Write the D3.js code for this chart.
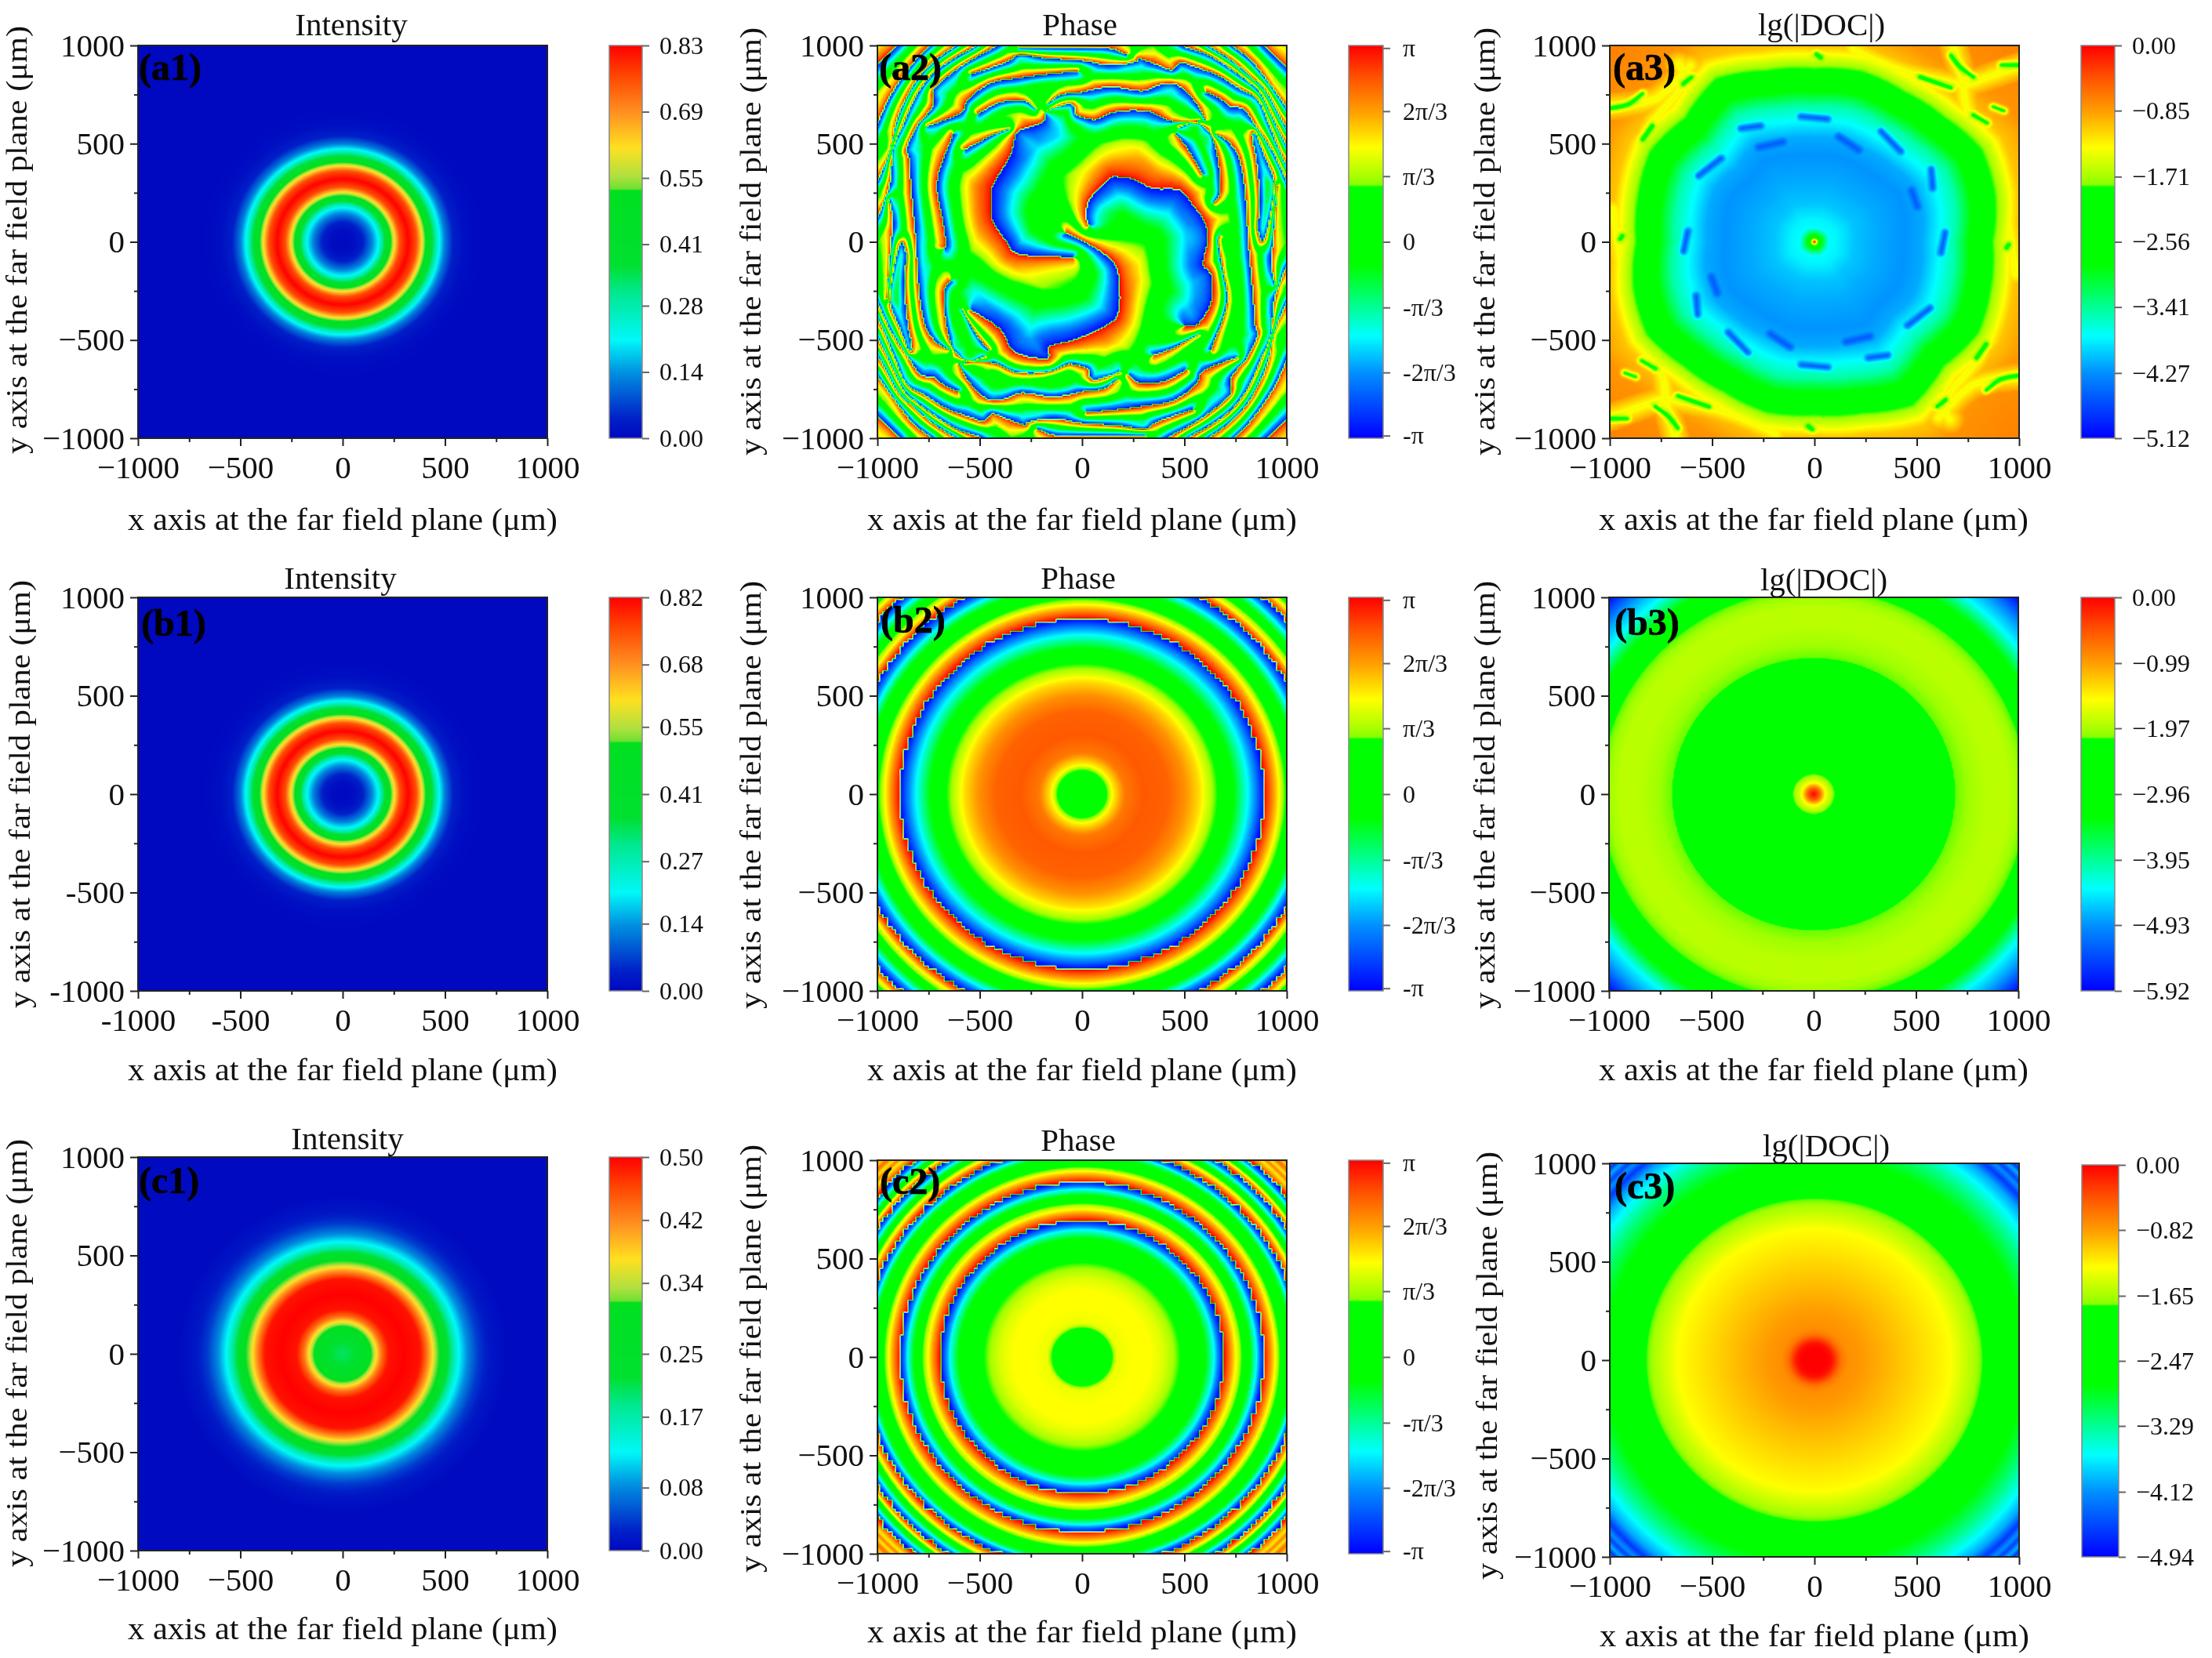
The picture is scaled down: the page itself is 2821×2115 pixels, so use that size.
<!DOCTYPE html>
<html>
<head>
<meta charset="utf-8">
<script src="https://cdn.jsdelivr.net/npm/d3@7"></script>
<style>
  html, body { margin: 0; padding: 0; background: #fff; }
  svg { display: block; filter: blur(0.6px); }
  text { font-family: "Liberation Serif", serif; }
</style>
</head>
<body>
<svg id="fig" width="2821" height="2115"></svg>
<script>
// ---- values ----
const majorTicks = [-1000, -500, 0, 500, 1000]
const minorTicks = [-750, -250, 250, 750]

// intensity against radius (um)
const radA1 = [0, 60, 100, 140, 175, 205, 235, 255, 280, 320, 360, 385, 405, 440, 470, 500, 540, 600, 700]
const intA1 = [0, .01, .04, .12, .21, .35, .50, .62, .76, .83, .76, .62, .50, .35, .22, .12, .04, .01, 0]
const intB1 = [0, .01, .04, .12, .21, .35, .50, .61, .75, .82, .75, .61, .50, .35, .22, .12, .04, .01, 0]
const radC1 = [0, 60, 100, 139, 150, 165, 190, 225, 300, 380, 410, 440, 455, 475, 520, 565, 610, 660, 720, 800]
const intC1 = [.20, .22, .26, .30, .33, .37, .435, .49, .50, .49, .435, .37, .33, .30, .21, .13, .08, .04, .015, .003]

// unwrapped phase (units of pi) against radius (um)
const radB2 = [0, 100, 125, 150, 210, 300, 420, 500, 570, 635, 660, 740, 810, 850, 890, 925, 960, 985, 1060, 1100, 1152, 1190, 1220, 1290, 1331, 1370, 1414]
const phaB2 = [0, .1, .28, .5, .75, .82, .8, .7, .55, .33, .25, -.12, -.48, -.7, -1, -1.25, -1.5, -1.7, -2.12, -2.5, -3, -3.5, -3.75, -4.5, -5, -5.5, -6]
const radC2 = [0, 130, 151, 170, 250, 336, 400, 459, 600, 643, 692, 749, 775, 819, 854, 888, 942, 960, 1030, 1075, 1130, 1195, 1250, 1290, 1310, 1330, 1345, 1360, 1380, 1400, 1414]
const phaC2 = [0, .1, .28, .45, .48, .48, .42, .3, -.1, -.45, -1, -1.5, -1.7, -2.1, -2.5, -3, -3.5, -3.7, -4.2, -5, -5.8, -7, -8.2, -9, -9.3, -9.5, -9.25, -9.5, -9.2, -9.45, -9.2]

// lg|DOC| against radius (um)
const radB3 = [0, 30, 55, 80, 100, 105, 140, 684, 690, 850, 950, 1035, 1050, 1150, 1243, 1320, 1400, 1414]
const docB3 = [0, -.59, -1.48, -1.89, -2.10, -2.37, -2.66, -2.66, -2.10, -1.89, -1.89, -2.10, -2.37, -3.26, -4.38, -4.91, -5.74, -5.86]
const radC3 = [0, 60, 85, 105, 130, 160, 220, 400, 665, 780, 815, 830, 1050, 1130, 1200, 1260, 1300, 1330, 1350, 1375, 1395, 1414]
const docC3 = [0, 0, -.08, -.3, -.6, -.74, -.79, -.99, -1.28, -1.63, -1.75, -1.98, -2.87, -3.26, -3.66, -4.05, -4.64, -4.10, -4.59, -3.95, -4.69, -3.95]

// a3: green edge (um) by angle (deg), value against radius / edge
const a3Angles = [0, 15, 30, 45, 60, 75, 90, 105, 120, 135, 150, 165, 180]
const a3Edge = [873, 917, 946, 900, 884, 900, 884, 905, 963, 895, 927, 895, 873]
const a3Rel = [0, .012, .03, .05, .08, .13, .22, .34, .5, .6, .68, .78, .85, .9, .998, 1.002, 1.06, 1.12, 1.25, 1.6]
const a3Doc = [0, -1.28, -2.56, -3.17, -3.79, -3.84, -4.04, -4.15, -4.25, -4.15, -3.84, -3.48, -2.97, -2.56, -1.89, -1.82, -1.45, -1.05, -.8, -.68]
// dark dashes, green veins and yellow web of a3 (um), each also appears turned by 180 deg
const a3Dashes = [[-271, 481, -155, 509], [-566, 337, -456, 426], [-359, 578, -264, 591], [-66, 639, 64, 626],
  [325, 564, 421, 461], [571, 371, 578, 275], [475, 261, 503, 179], [640, 48, 619, -55], [119, 536, 215, 468]]
const a3Veins = [[-990, 681, -908, 701, -840, 756], [-641, 804, -600, 839], [-840, 522, -792, 591],
  [667, 949, 708, 894, 777, 839], [516, 839, 667, 784], [777, 646, 845, 605], [873, 688, 927, 667], [914, 901, 996, 901],
  [10, 956, 30, 940], [-949, 14, -940, 30]]
const a3Web = [[-662, 904, -636, 808, -786, 616, -840, 506], [188, 976, 366, 894, 530, 839, 736, 797],
  [681, 990, 722, 832, 749, 660, 859, 467, 927, 220, 982, -165], [736, 797, 996, 894], [-990, 688, -771, 729, -607, 894]]

// a2: phase-jump lines, traced in crop units (783 = 1000 um in x, 755 = 1000 um in y).
// warm side is on the left when walking along a line. ring lines also appear turned by 180 deg.
const a2Rings = [
  [-810, 660, -713, 750, -670, 790],
  [-800, 430, -783, 455, -743, 545, -693, 625, -633, 705, -583, 755, -550, 790],
  [-795, 220, -773, 255, -733, 355, -713, 455, -673, 555, -623, 635, -553, 705, -483, 755, -450, 790],
  [-800, 80, -778, 105, -758, 155, -733, 235, -723, 355, -683, 455, -633, 565, -573, 645, -493, 705, -413, 750, -380, 790],
  [-510, -415, -560, -385, -600, -325, -620, -225, -630, -105, -636, 0, -653, 195, -663, 325, -673, 355, -633, 445, -598, 485, -568, 530, -568, 585, -503, 645, -433, 695, -333, 750, -280, 790],
  [-747, -220, -731, 0, -723, 75, -738, 165],
  [-528, -23, -521, 0, -538, 105, -555, 195, -551, 255, -533, 315, -493, 415],
  [-593, 445, -463, 495, -443, 540, -353, 610, -243, 630, -133, 645, -18, 655],
  [-448, 355, -393, 385, -333, 415, -273, 435],
  [-398, 493, -313, 537, -223, 543, -178, 510],
  [-423, 645, -363, 665, -283, 695, -238, 720, -143, 707, 0, 697, 100, 680, 170, 685, 210, 695, 220, 705, 290, 680, 345, 660, 375, 690, 440, 670, 520, 640, 600, 590, 670, 550, 710, 465, 750, 365, 790, 275],
  [-240, 745, 0, 745, 100, 745, 170, 720],
  [-133, 530, -83, 565, 0, 575, 60, 590, 130, 595, 230, 580, 300, 605, 360, 605, 420, 555, 460, 495, 470, 470],
  [-143, 500, -93, 520, -38, 530, -23, 490, 0, 480, 50, 470, 110, 495, 170, 505, 260, 500, 340, 465, 450, 465],
  [370, 440, 440, 458, 495, 410, 520, 315, 530, 195, 505, 150],
  [460, 260, 430, 315, 395, 370, 358, 415],
  [475, 575, 530, 550, 570, 520, 620, 510, 665, 445, 720, 365, 760, 285, 790, 215],
  [685, 5, 672, 55, 680, 155, 668, 305, 650, 410, 665, 415, 700, 325, 735, 235, 720, 105, 700, 15, 685, 5],
  [680, 790, 700, 750, 790, 665],
  [570, 760, 580, 750, 650, 695, 720, 605, 790, 505],
  [470, 770, 490, 750, 570, 700, 640, 640, 700, 585, 750, 495, 790, 425],
  [375, 770, 395, 750, 470, 725, 540, 685, 610, 635, 680, 575, 740, 455, 790, 355]
]
const a2Core = [
  [-35, -59, -239, -49, -288, 0, -343, 85, -348, 175, -338, 225, -273, 335, -253, 415, -223, 435, -148, 460, -143, 500],
  [25, 65, 15, 105, 30, 165, 100, 240, 130, 250, 200, 240, 270, 205, 370, 200, 420, 145, 470, 75, 480, 0, 462, -85, 494, -127, 494, -231, 446, -314, 393, -324],
  [-62, 34, 2, 3, 72, -38, 136, -106, 141, -262, 104, -314, -25, -376, -126, -402, -132, -449, -260, -423, -313, -335, -426, -262]
]
// the bands round the core lines are wider than the outer fringes
const a2CoreReach = 2.4

const panelNames = ['a1', 'a2', 'a3', 'b1', 'b2', 'b3', 'c1', 'c2', 'c3']
const titles = ['Intensity', 'Phase', 'lg(|DOC|)']
const phaseTicks = [3.1, 2.09, 1.05, 0, -1.05, -2.09, -3.1]
const phaseLabels = ['π', '2π/3', 'π/3', '0', '-π/3', '-2π/3', '-π']
const barTicks = {
  a1: [.83, .69, .55, .41, .28, .14, 0], b1: [.82, .68, .55, .41, .27, .14, 0], c1: [.50, .42, .34, .25, .17, .08, 0],
  a3: [0, -.85, -1.71, -2.56, -3.41, -4.27, -5.12], b3: [0, -.99, -1.97, -2.96, -3.95, -4.93, -5.92], c3: [0, -.82, -1.65, -2.47, -3.29, -4.12, -4.94]
}

// ---- layout, pixels: left, right, top, bottom, bar left, bar right, bar top, bar bottom ----
const frames = {
  a1: [176, 698, 58, 559, 777, 819, 58, 559], a2: [1119, 1641, 58, 559, 1720, 1764, 58, 559], a3: [2053, 2575, 58, 559, 2654, 2697, 58, 559],
  b1: [176, 698, 762, 1264, 777, 819, 762, 1264], b2: [1119, 1641, 762, 1264, 1720, 1764, 762, 1264], b3: [2052, 2574, 762, 1264, 2654, 2697, 762, 1264],
  c1: [176, 698, 1476, 1978, 777, 819, 1476, 1978], c2: [1119, 1641, 1480, 1982, 1720, 1764, 1480, 1982], c3: [2053, 2575, 1484, 1986, 2655, 2702, 1486, 1986]
}
// title x, title y, x label x, x label y, y label x, y label y, tag x, tag y
const labelsAt = {
  a1: [448, 45, 437, 676, 34, 306, 177, 102], a2: [1377, 45, 1380, 676, 970, 308, 1121, 102], a3: [2323, 45, 2313, 676, 1906, 308, 2057, 102],
  b1: [434, 751, 437, 1378, 38, 1013, 180, 811], b2: [1375, 751, 1380, 1378, 970, 1014, 1123, 807], b3: [2326, 753, 2313, 1378, 1906, 1014, 2059, 810],
  c1: [443, 1466, 437, 2091, 34, 1726, 177, 1522], c2: [1375, 1468, 1380, 2095, 970, 1733, 1122, 1523], c3: [2329, 1475, 2314, 2100, 1909, 1742, 2059, 1529]
}

// ---- colour maps: fraction of the range to colour ----
const mapFrac = [0, .167, .26, .37, .44, .64, .645, .667, .74, .83, .92, 1]
const mapBright = ['#0000ff', '#0090ff', '#00ffff', '#00ff60', '#00ff00', '#00ff00', '#88ff00', '#a8ff00', '#ffff00', '#ffa000', '#ff5000', '#ff0000']
const softFrac = [0, .167, .26, .37, .44, .62, .66, .74, .83, .92, 1]
const softBright = ['#0000ff', '#0090ff', '#00ffff', '#00ff60', '#00ff00', '#00ff00', '#a0ff00', '#ffff00', '#ffa000', '#ff5000', '#ff0000']
const intFrac = [0, .05, .167, .25, .37, .44, .63, .635, .667, .74, .83, .93, 1]
const intCols = ['#0008c0', '#0020c8', '#0090e0', '#00f8f8', '#00e890', '#00e030', '#00e020', '#70e030', '#b0e040', '#ffe020', '#ff9020', '#ff4000', '#ff0000']
const softIntFrac = [0, .05, .167, .25, .37, .44, .60, .667, .74, .83, .93, 1]
const softIntCols = ['#0008c0', '#0020c8', '#0090e0', '#00f8f8', '#00e890', '#00e030', '#00e020', '#b0e040', '#ffe020', '#ff9020', '#ff4000', '#ff0000']

function makeLut(fr, cols) {
  const s = d3.scaleLinear().domain(fr).range(cols).interpolate(d3.interpolateRgb).clamp(true)
  return d3.range(4096).map(i => d3.rgb(s(i / 4095)))
}
const lutBright = makeLut(softFrac, softBright)
const lutInt = makeLut(softIntFrac, softIntCols)

// ---- fields: value at (x, y) in um ----
const radial = (rs, vs) => {
  const s = d3.scaleLinear().domain(rs).range(vs).clamp(true)
  return (x, y) => s(Math.hypot(x, y))
}
const wrappedPhase = (rs, us) => {
  const s = d3.scaleLinear().domain(rs).range(us).clamp(true)
  const cell = 2000 / 100
  return (x, y) => {
    const u = s(Math.hypot(x, y))
    const us2 = s(Math.hypot(Math.round(x / cell) * cell, Math.round(y / cell) * cell))
    const v = u - 2 * Math.round(us2 / 2)
    return Math.PI * Math.max(-1, Math.min(1, v))
  }
}

// turn flat [u, v, ...] into point lists
const traceX = d3.scaleLinear().domain([-783, 783]).range([-1000, 1000])
const traceY = d3.scaleLinear().domain([-755, 755]).range([-1000, 1000])
function toPoints(flat, fx, fy) {
  const pts = []
  for (let i = 0; i < flat.length; i += 2) pts.push([fx(flat[i]), fy(flat[i + 1])])
  return pts
}
const turned = pts => pts.map(p => [-p[0], -p[1]])
// rounds the corners of a traced line
function smooth(pts) {
  const out = []
  for (let i = 0; i < pts.length - 1; i++) {
    const p0 = pts[Math.max(0, i - 1)], p1 = pts[i], p2 = pts[i + 1], p3 = pts[Math.min(pts.length - 1, i + 2)]
    for (let k = 0; k < 3; k++) {
      const t = k / 3, t2 = t * t, t3 = t2 * t
      out.push([0, 1].map(c => .5 * (2 * p1[c] + (p2[c] - p0[c]) * t + (2 * p0[c] - 5 * p1[c] + 4 * p2[c] - p3[c]) * t2 + (3 * p1[c] - p0[c] - 3 * p2[c] + p3[c]) * t3)))
    }
  }
  out.push(pts[pts.length - 1])
  return out
}
const ringPts = a2Rings.map(l => smooth(toPoints(l, traceX, traceY)))
const a2Lines = ringPts.concat(ringPts.map(turned)).map(pts => ({ pts, reach: 1 }))
  .concat(a2Core.map(l => ({ pts: smooth(toPoints(l, traceX, traceY)), reach: a2CoreReach })))

// nearest point of a polyline: distance and which side
function nearest(pts, x, y) {
  let best = 1e12, bi = 0, bt = 0
  for (let i = 0; i < pts.length - 1; i++) {
    const ax = pts[i][0], ay = pts[i][1]
    const dx = pts[i + 1][0] - ax, dy = pts[i + 1][1] - ay
    let t = ((x - ax) * dx + (y - ay) * dy) / (dx * dx + dy * dy)
    t = t < 0 ? 0 : t > 1 ? 1 : t
    const ex = ax + t * dx - x, ey = ay + t * dy - y
    const d = ex * ex + ey * ey
    if (d < best) { best = d; bi = i; bt = t }
  }
  return { d: Math.sqrt(best), i: bi, t: bt }
}
function sideOf(pts, n, x, y) {
  const last = pts.length - 2
  const dir = i => {
    const dx = pts[i + 1][0] - pts[i][0], dy = pts[i + 1][1] - pts[i][1], l = Math.hypot(dx, dy)
    return [dx / l, dy / l]
  }
  const closed = pts[0][0] === pts[last + 1][0] && pts[0][1] === pts[last + 1][1]
  let tx, ty, tip = false
  const a = dir(n.i)
  tx = a[0]; ty = a[1]
  if (n.t === 1) {
    if (n.i < last) { const b = dir(n.i + 1); tx += b[0]; ty += b[1] }
    else if (closed) { const b = dir(0); tx += b[0]; ty += b[1] }
    else tip = true
  } else if (n.t === 0 && n.i === 0) {
    if (closed) { const b = dir(last); tx += b[0]; ty += b[1] }
    else tip = true
  }
  const px = pts[n.i][0] + n.t * (pts[n.i + 1][0] - pts[n.i][0])
  const py = pts[n.i][1] + n.t * (pts[n.i + 1][1] - pts[n.i][1])
  const l = Math.hypot(tx, ty), dd = Math.max(n.d, 1e-6)
  const c = (tx * (y - py) - ty * (x - px)) / (l * dd)
  return tip ? c : (c >= 0 ? 1 : -1)
}
function fringeField(x, y) {
  let d1 = 1e12, d2 = 1e12, line = null, near = null
  for (const l of a2Lines) {
    const n = nearest(l.pts, x, y), m = n.d / l.reach
    if (m < d1) { d2 = d1; d1 = m; line = l.pts; near = n }
    else if (m < d2) d2 = m
  }
  const s = sideOf(line, near, x, y)
  return Math.PI * (1 - 2 * d1 / (d1 + d2)) * s
}

const a3EdgeAt = d3.scaleLinear().domain(a3Angles).range(a3Edge)
const a3Prof = d3.scaleLinear().domain(a3Rel).range(a3Doc).clamp(true)
const um = v => v
const both = list => {
  const pts = list.map(l => smooth(toPoints(l, um, um)))
  return pts.concat(pts.map(turned))
}
const a3DashAll = both(a3Dashes), a3VeinAll = both(a3Veins), a3WebAll = both(a3Web)
function docField(x, y) {
  let ang = Math.atan2(y, x) * 180 / Math.PI
  if (ang < 0) ang += 180
  let v = a3Prof(Math.hypot(x, y) / a3EdgeAt(ang))
  for (const pts of a3WebAll) {
    const w = 1 - nearest(pts, x, y).d / 70
    if (w > 0) v = Math.min(v, -.85 - .55 * w)
  }
  for (const pts of a3VeinAll) {
    const w = 1 - nearest(pts, x, y).d / 36
    if (w > 0) v += (-2.3 - v) * w * w
  }
  for (const pts of a3DashAll) {
    const w = 1 - nearest(pts, x, y).d / 28
    if (w > 0) v += (-4.6 - v) * w
  }
  return v
}

const fields = {
  a1: radial(radA1, intA1), b1: radial(radA1, intB1), c1: radial(radC1, intC1),
  a2: fringeField, b2: wrappedPhase(radB2, phaB2), c2: wrappedPhase(radC2, phaC2),
  a3: docField, b3: radial(radB3, docB3), c3: radial(radC3, docC3)
}

// ---- drawing ----
const svg = d3.select('#fig')
svg.append('rect').attr('width', 2821).attr('height', 2115).attr('fill', '#fff')
const defs = svg.append('defs')

function heatImage(name, w, h, color) {
  // sample on a grid, then blend between grid points as the original shading does
  const n = 260, f = fields[name]
  const grid = new Float32Array((n + 1) * (n + 1))
  const gs = d3.scaleLinear().domain([0, n]).range([-1000, 1000])
  for (let j = 0; j <= n; j++) for (let i = 0; i <= n; i++) grid[j * (n + 1) + i] = f(gs(i), gs(j))
  const cv = document.createElement('canvas')
  cv.width = w; cv.height = h
  const ctx = cv.getContext('2d')
  const img = ctx.createImageData(w, h)
  for (let py = 0; py < h; py++) {
    const gy = (1 - (py + .5) / h) * n, j0 = Math.min(n - 1, Math.floor(gy)), fy = gy - j0
    for (let px = 0; px < w; px++) {
      const gx = (px + .5) / w * n, i0 = Math.min(n - 1, Math.floor(gx)), fx = gx - i0
      const a = grid[j0 * (n + 1) + i0], b = grid[j0 * (n + 1) + i0 + 1]
      const c = grid[(j0 + 1) * (n + 1) + i0], d = grid[(j0 + 1) * (n + 1) + i0 + 1]
      const col = color((a * (1 - fx) + b * fx) * (1 - fy) + (c * (1 - fx) + d * fx) * fy)
      const k = (py * w + px) * 4
      img.data[k] = col.r; img.data[k + 1] = col.g; img.data[k + 2] = col.b; img.data[k + 3] = 255
    }
  }
  ctx.putImageData(img, 0, 0)
  return cv.toDataURL()
}

const minus = d => (d < 0 ? '\u2212' + Math.abs(d) : '' + d)
const hyphen = d => '' + d

panelNames.forEach((name, idx) => {
  const col = idx % 3, fr = frames[name], at = labelsAt[name]
  const [left, right, top, bottom, bl, br, bt, bb] = fr
  const x = d3.scaleLinear().domain([-1000, 1000]).range([left, right])
  const y = d3.scaleLinear().domain([-1000, 1000]).range([bottom, top])

  const isPhase = col === 1, isInt = col === 0
  const ticks = isPhase ? phaseTicks : barTicks[name]
  const domain = isPhase ? [-Math.PI, Math.PI] : [d3.min(ticks), d3.max(ticks)]
  const lut = isInt ? lutInt : lutBright
  const frac = d3.scaleLinear().domain(domain).range([0, 4095]).clamp(true)
  const color = v => lut[Math.round(frac(v))]

  svg.append('image').attr('x', left).attr('y', top)
    .attr('width', right - left).attr('height', bottom - top)
    .attr('preserveAspectRatio', 'none')
    .attr('href', heatImage(name, right - left, bottom - top, color))

  svg.append('rect').attr('x', left).attr('y', top)
    .attr('width', right - left).attr('height', bottom - top)
    .attr('fill', 'none').attr('stroke', '#222').attr('stroke-width', 2)

  const fmt = name === 'b1' ? hyphen : minus
  const style = g => {
    g.select('.domain').remove()
    g.selectAll('line').attr('stroke', '#222').attr('stroke-width', 2)
    g.selectAll('text').attr('font-size', 41).attr('font-family', '"Liberation Serif", serif').attr('fill', '#111')
  }
  svg.append('g').attr('transform', `translate(0,${bottom})`)
    .call(d3.axisBottom(x).tickValues(majorTicks).tickFormat(fmt).tickSize(10).tickPadding(12)).call(style)
  svg.append('g').attr('transform', `translate(0,${bottom})`)
    .call(d3.axisBottom(x).tickValues(minorTicks).tickFormat('').tickSize(5)).call(style)
  svg.append('g').attr('transform', `translate(${left},0)`)
    .call(d3.axisLeft(y).tickValues(majorTicks).tickFormat(fmt).tickSize(10).tickPadding(7)).call(style)
  svg.append('g').attr('transform', `translate(${left},0)`)
    .call(d3.axisLeft(y).tickValues(minorTicks).tickFormat('').tickSize(5)).call(style)

  svg.append('text').attr('x', at[0]).attr('y', at[1]).attr('text-anchor', 'middle').attr('font-size', 41).attr('fill', '#111').text(titles[col])
  svg.append('text').attr('x', at[2]).attr('y', at[3]).attr('text-anchor', 'middle').attr('font-size', 41).attr('fill', '#111')
    .attr('textLength', 548).attr('lengthAdjust', 'spacingAndGlyphs')
    .text('x axis at the far field plane (μm)')
  svg.append('text').attr('transform', `translate(${at[4]},${at[5]}) rotate(-90)`).attr('text-anchor', 'middle').attr('font-size', 38).attr('fill', '#111')
    .attr('textLength', 546).attr('lengthAdjust', 'spacingAndGlyphs')
    .text('y axis at the far field plane (μm)')
  svg.append('text').attr('x', at[6]).attr('y', at[7]).attr('font-size', 48).attr('font-weight', 'bold').attr('fill', '#000')
    .attr('stroke', '#000').attr('stroke-width', .7).text('(' + name + ')')

  // colour bar
  const gid = 'bar-' + name
  const fracs = isInt ? intFrac : mapFrac, cols = isInt ? intCols : mapBright
  defs.append('linearGradient').attr('id', gid).attr('x1', 0).attr('x2', 0).attr('y1', 1).attr('y2', 0)
    .selectAll('stop').data(fracs).join('stop')
    .attr('offset', d => d).attr('stop-color', (d, i) => cols[i])
  svg.append('rect').attr('x', bl).attr('y', bt).attr('width', br - bl).attr('height', bb - bt)
    .attr('fill', `url(#${gid})`).attr('stroke', '#888').attr('stroke-width', 1.5)
  const by = d3.scaleLinear().domain(domain).range([bb, bt])
  const barFmt = isPhase ? (d, i) => phaseLabels[i] : d => (d < 0 ? '\u2212' : '') + Math.abs(d).toFixed(2)
  const barG = svg.append('g').attr('transform', `translate(${br},0)`)
    .call(d3.axisRight(by).tickValues(ticks).tickFormat(barFmt).tickSize(9).tickPadding(col === 1 ? 16 : 13))
  barG.select('.domain').remove()
  barG.selectAll('line').attr('stroke', '#666').attr('stroke-width', 2)
  barG.selectAll('text').attr('font-size', 32).attr('font-family', '"Liberation Serif", serif').attr('fill', '#111')
})
</script>
</body>
</html>
